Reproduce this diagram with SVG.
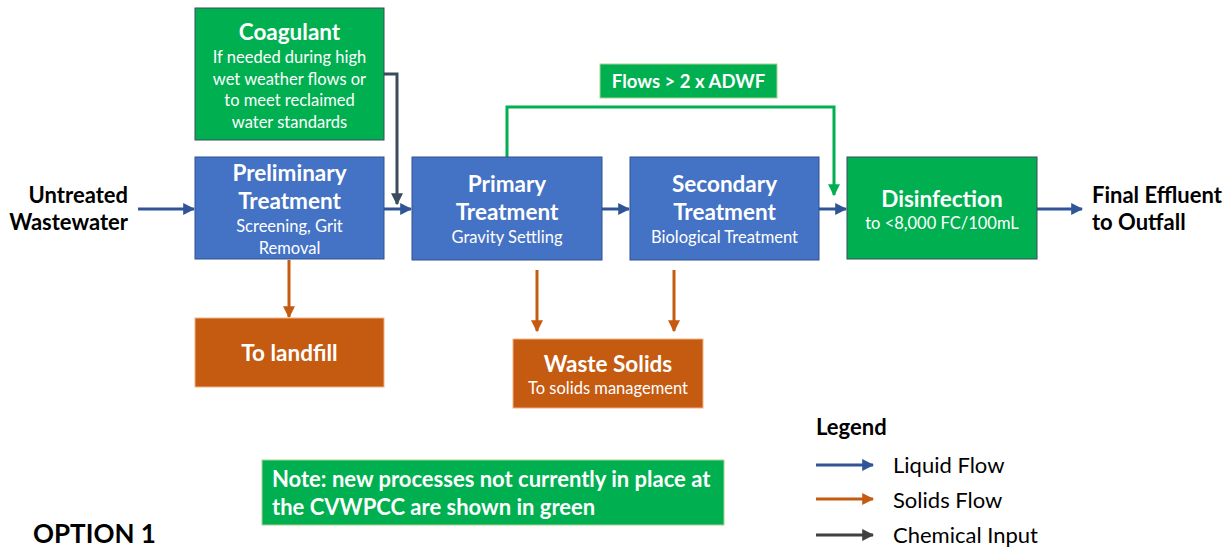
<svg xmlns="http://www.w3.org/2000/svg" width="1231" height="551" viewBox="0 0 1231 551">
<style>
text{font-family:Lato,"Liberation Sans",sans-serif}
.t{font-weight:bold;font-size:22.5px;fill:#fff;text-anchor:middle}
.s{font-size:16.5px;fill:#fff;text-anchor:middle}
.blk{font-weight:bold;font-size:22px;fill:#000}
.leg{font-size:22px;fill:#000}
.blue{fill:#4472C4;stroke:#2F528F;stroke-width:1}
.green{fill:#00B050;stroke:#3B4A5C;stroke-width:1}
.orange{fill:#C55A11;stroke:#F4B183;stroke-width:1}
.lq{stroke:#2F5597;stroke-width:3;fill:none;marker-end:url(#mb)}
.sd{stroke:#C55A11;stroke-width:3;fill:none;marker-end:url(#mo)}
.ch{stroke:#3B4A5C;stroke-width:3;fill:none;marker-end:url(#mc)}
.gr{stroke:#00B050;stroke-width:3;fill:none;marker-end:url(#mg)}
</style>
<defs>
<marker id="mb" viewBox="0 0 10 10" refX="9" refY="5" markerWidth="4" markerHeight="4" orient="auto" markerUnits="strokeWidth"><path d="M0,0L10,5L0,10z" fill="#2F5597"/></marker>
<marker id="mo" viewBox="0 0 10 10" refX="9" refY="5" markerWidth="4" markerHeight="4" orient="auto" markerUnits="strokeWidth"><path d="M0,0L10,5L0,10z" fill="#C55A11"/></marker>
<marker id="mc" viewBox="0 0 10 10" refX="9" refY="5" markerWidth="4" markerHeight="4" orient="auto" markerUnits="strokeWidth"><path d="M0,0L10,5L0,10z" fill="#3B4A5C"/></marker>
<marker id="mk" viewBox="0 0 10 10" refX="9" refY="5" markerWidth="4" markerHeight="4" orient="auto" markerUnits="strokeWidth"><path d="M0,0L10,5L0,10z" fill="#404040"/></marker>
<marker id="mg" viewBox="0 0 10 10" refX="9" refY="5" markerWidth="4" markerHeight="4" orient="auto" markerUnits="strokeWidth"><path d="M0,0L10,5L0,10z" fill="#00B050"/></marker>
</defs>
<rect width="1231" height="551" fill="#fff"/>

<g id="connectors">
<path class="lq" d="M138,209H194"/>
<path class="lq" d="M384,209H411"/>
<path class="lq" d="M602,209H629"/>
<path class="lq" d="M819,209H846"/>
<path class="lq" d="M1037,209H1082"/>
<path class="ch" d="M384,74H397V204"/>
<path class="gr" d="M507,157V107H834V195"/>
<path class="sd" d="M289,260V317"/>
<path class="sd" d="M537,270V331"/>
<path class="sd" d="M674,270V331"/>
</g>

<g id="untreated">
<text class="blk" x="128" y="203" text-anchor="end">Untreated</text>
<text class="blk" x="128" y="230" text-anchor="end">Wastewater</text>
</g>

<g id="coagulant">
<rect class="green" x="195" y="8" width="189" height="132"/>
<text class="t" x="289.5" y="40">Coagulant</text>
<text class="s" x="289.5" y="63">If needed during high</text>
<text class="s" x="289.5" y="85">wet weather flows or</text>
<text class="s" x="289.5" y="106">to meet reclaimed</text>
<text class="s" x="289.5" y="128">water standards</text>
</g>

<g id="preliminary">
<rect class="blue" x="195" y="157" width="189" height="102"/>
<text class="t" x="289.5" y="181">Preliminary</text>
<text class="t" x="289.5" y="209">Treatment</text>
<text class="s" x="289.5" y="232">Screening, Grit</text>
<text class="s" x="289.5" y="254">Removal</text>
</g>

<g id="primary">
<rect class="blue" x="412" y="157" width="190" height="103"/>
<text class="t" x="507" y="192">Primary</text>
<text class="t" x="507" y="220">Treatment</text>
<text class="s" x="507" y="243">Gravity Settling</text>
</g>

<g id="secondary">
<rect class="blue" x="630" y="157" width="189" height="103"/>
<text class="t" x="724.5" y="192">Secondary</text>
<text class="t" x="724.5" y="220">Treatment</text>
<text class="s" x="724.5" y="243">Biological Treatment</text>
</g>

<g id="bypass-label">
<rect x="600" y="64" width="177" height="34" fill="#00B050" stroke="#A9D18E" stroke-width="1"/>
<text x="688.5" y="88" font-weight="bold" font-size="18.5" fill="#fff" text-anchor="middle">Flows &gt; 2 x ADWF</text>
</g>

<g id="disinfection">
<rect class="green" x="847" y="157" width="190" height="102" stroke="#2F528F"/>
<text class="t" x="942" y="207">Disinfection</text>
<text class="s" x="942" y="229">to &lt;8,000 FC/100mL</text>
</g>

<g id="final">
<text class="blk" x="1092" y="203">Final Effluent</text>
<text class="blk" x="1092" y="230">to Outfall</text>
</g>

<g id="landfill">
<rect class="orange" x="195" y="318" width="189" height="69"/>
<text class="t" x="289.5" y="361">To landfill</text>
</g>

<g id="waste-solids">
<rect class="orange" x="513" y="339" width="190" height="69"/>
<text class="t" x="608" y="372">Waste Solids</text>
<text class="s" x="608" y="394">To solids management</text>
</g>

<g id="note">
<rect x="262" y="460" width="462" height="65" fill="#00B050" stroke="#A9D18E" stroke-width="1"/>
<text x="272" y="487" font-weight="bold" font-size="22" fill="#fff">Note: new processes not currently in place at</text>
<text x="272" y="515" font-weight="bold" font-size="22" fill="#fff">the CVWPCC are shown in green</text>
</g>

<g id="legend">
<text class="blk" x="816" y="435">Legend</text>
<path class="lq" d="M816,465H873"/>
<text class="leg" x="893" y="473">Liquid Flow</text>
<path class="sd" d="M816,499H873"/>
<text class="leg" x="893" y="508">Solids Flow</text>
<path d="M816,535H873" stroke="#404040" stroke-width="3" fill="none" marker-end="url(#mk)"/>
<text class="leg" x="893" y="543">Chemical Input</text>
</g>

<g id="option">
<text x="33" y="543" font-weight="bold" font-size="26" fill="#000">OPTION 1</text>
</g>
</svg>
